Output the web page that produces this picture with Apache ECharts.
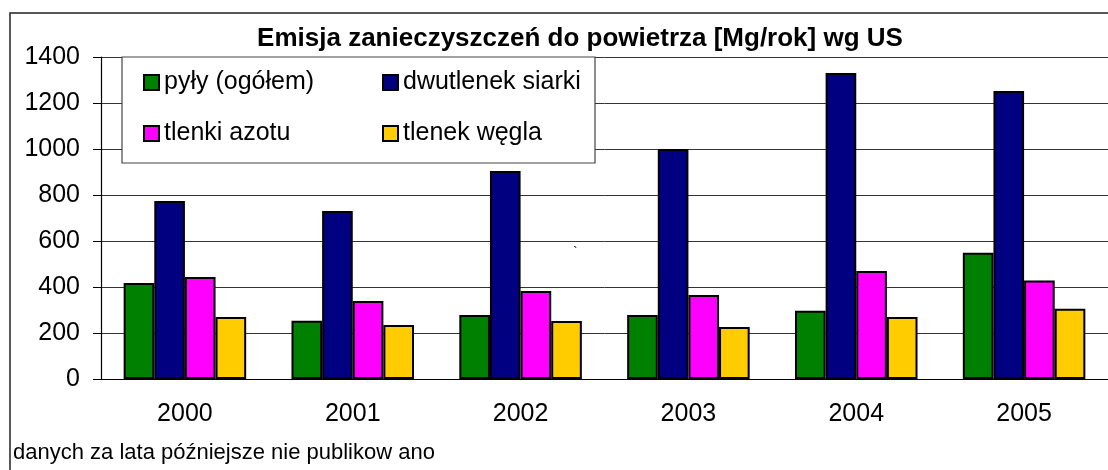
<!DOCTYPE html>
<html>
<head>
    <meta charset="utf-8">
    <script src="https://cdn.jsdelivr.net/npm/echarts@6/dist/echarts.min.js"></script>
</head>
<body style="margin:0; background:#fff">
    <div id="main" style="width:1108px; height:470px"></div>
    <script type="text/javascript">
        // values (Mg/rok)
        var years = ['2000', '2001', '2002', '2003', '2004', '2005'];
        var pyly = [417, 253, 278, 278, 297, 549];
        var siarka = [774, 730, 904, 1000, 1330, 1252];
        var azot = [444, 339, 383, 365, 470, 428];
        var wegiel = [270, 235, 252, 226, 270, 305];

        var font = 'Liberation Sans, Arial, sans-serif';
        var myChart = echarts.init(document.getElementById('main'));

        function bar(name, data, color) {
            return {
                name: name,
                type: 'bar',
                data: data,
                barGap: '0%',
                barCategoryGap: '27%',
                itemStyle: { color: color, borderColor: '#000000', borderWidth: 2 }
            };
        }

        var option = {
            animation: false,
            title: [{
                text: 'Emisja zanieczyszczeń do powietrza [Mg/rok] wg US',
                left: 575,
                textAlign: 'center',
                top: 21,
                textStyle: { fontFamily: font, fontSize: 26, fontWeight: 'bold', color: '#000' }
            }, {
                text: 'danych za lata późniejsze nie publikow ano',
                left: 13,
                top: 442,
                padding: 0,
                textStyle: { fontFamily: font, fontSize: 22, fontWeight: 'normal', color: '#000' }
            }, {
                // stray mark in the original picture
                text: '`',
                left: 573,
                top: 246,
                padding: 0,
                textStyle: { fontFamily: font, fontSize: 14, fontWeight: 'normal', color: '#000' }
            }],
            // one legend, wrapped into two columns, with its own white box
            legend: {
                data: ['pyły (ogółem)', 'dwutlenek siarki', 'tlenki azotu', 'tlenek węgla'],
                orient: 'horizontal',
                icon: 'rect',
                left: 122, top: 57,
                width: 470,
                padding: [13, 0, 17, 21],
                itemWidth: 15, itemHeight: 15, itemGap: 26,
                backgroundColor: '#fff',
                borderColor: '#444',
                borderWidth: 1.2,
                textStyle: { fontFamily: font, fontSize: 25, color: '#000', width: 192, lineHeight: 19 }
            },
            graphic: [{
                type: 'rect', z: 3, silent: true,
                shape: { x: 10, y: 13, width: 1200, height: 500 },
                style: { fill: 'transparent', stroke: '#222', lineWidth: 1.5 }
            }],
            grid: { left: 101, top: 57, width: 1010, height: 322 },
            xAxis: {
                type: 'category',
                data: years,
                axisLine: { lineStyle: { color: '#000', width: 1.2 } },
                axisTick: { length: 8, lineStyle: { color: '#000' } },
                axisLabel: { margin: 23, fontFamily: font, fontSize: 25, color: '#000' }
            },
            yAxis: {
                type: 'value',
                min: 0, max: 1400, interval: 200,
                axisLine: { show: true, lineStyle: { color: '#000', width: 1.2 } },
                axisTick: { show: true, length: 8, lineStyle: { color: '#000' } },
                axisLabel: {
                    margin: 21, fontFamily: font, fontSize: 25, color: '#000',
                    formatter: function (v) { return String(v); }
                },
                splitLine: { lineStyle: { color: '#333', width: 1 } }
            },
            series: [
                bar('pyły (ogółem)', pyly, '#008000'),
                bar('dwutlenek siarki', siarka, '#000080'),
                bar('tlenki azotu', azot, '#FF00FF'),
                bar('tlenek węgla', wegiel, '#FFCC00')
            ]
        };
        myChart.setOption(option);
    </script>
</body>
</html>
